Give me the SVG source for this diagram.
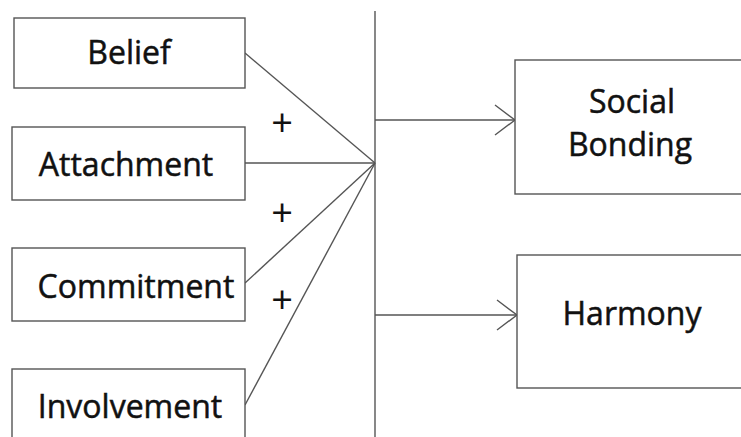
<svg xmlns="http://www.w3.org/2000/svg" width="741" height="437" viewBox="0 0 741 437">
<style>
.box{fill:#fff;stroke:#555;stroke-width:1.4}
.lbl{font-family:"Open Sans","Liberation Sans",sans-serif;font-size:32px;font-weight:500;fill:#111;stroke:#111;stroke-width:0.5;text-anchor:middle}
.plus{font-family:"Open Sans","Liberation Sans",sans-serif;font-size:38px;fill:#111;text-anchor:middle}
.ln{stroke:#555;stroke-width:1.4;fill:none}
</style>
<defs>
<marker id="arr" markerWidth="24" markerHeight="34" refX="21" refY="16" orient="auto" markerUnits="userSpaceOnUse">
<path d="M1,1 L21,16 L1,31" fill="none" stroke="#555" stroke-width="1.4"/>
</marker>
</defs>
<rect width="741" height="437" fill="#fff"/>
<g id="connectors">
<line class="ln" x1="375" y1="11" x2="375" y2="437"/>
<line class="ln" x1="245" y1="53" x2="375" y2="163"/>
<line class="ln" x1="245" y1="163" x2="375" y2="163"/>
<line class="ln" x1="245" y1="283" x2="375" y2="163"/>
<line class="ln" x1="245" y1="405" x2="375" y2="163"/>
<line class="ln" x1="375" y1="120" x2="515" y2="120" marker-end="url(#arr)"/>
<line class="ln" x1="375" y1="315" x2="517" y2="315" marker-end="url(#arr)"/>
<text class="plus" x="282" y="136">+</text>
<text class="plus" x="282" y="226">+</text>
<text class="plus" x="282" y="313">+</text>
</g>
<g id="belief">
<rect class="box" x="14" y="18" width="231" height="70"/>
<text class="lbl" x="129" y="64">Belief</text>
</g>
<g id="attachment">
<rect class="box" x="12" y="127" width="233" height="73"/>
<text class="lbl" x="126" y="176">Attachment</text>
</g>
<g id="commitment">
<rect class="box" x="12" y="248" width="233" height="73"/>
<text class="lbl" x="136" y="298">Commitment</text>
</g>
<g id="involvement">
<rect class="box" x="12" y="369" width="233" height="80"/>
<text class="lbl" x="130" y="418">Involvement</text>
</g>
<g id="social-bonding">
<rect class="box" x="515" y="60" width="240" height="134"/>
<text class="lbl" x="632" y="113">Social</text>
<text class="lbl" x="630" y="156">Bonding</text>
</g>
<g id="harmony">
<rect class="box" x="517" y="255" width="240" height="133"/>
<text class="lbl" x="632" y="325">Harmony</text>
</g>
</svg>
